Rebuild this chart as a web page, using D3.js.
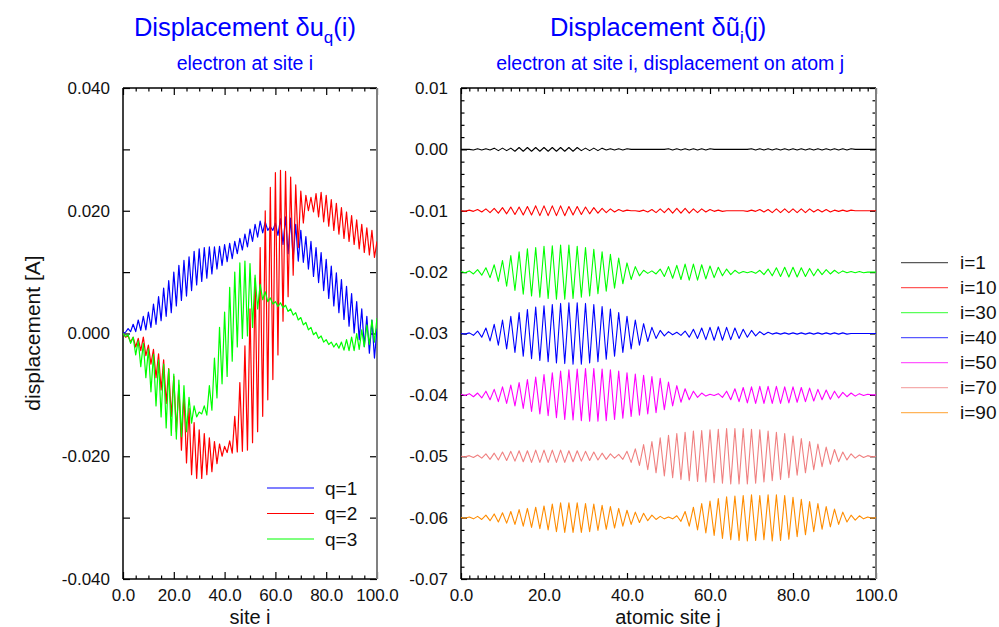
<!DOCTYPE html>
<html>
<head>
<meta charset="utf-8">
<script src="https://cdnjs.cloudflare.com/ajax/libs/d3/7.8.5/d3.min.js"></script>
<style>
  html, body { margin: 0; padding: 0; background: #fff; }
  svg { display: block; }
</style>
</head>
<body>
<div id="chart"></div>
<script>
// x positions: site index along the chain
const sites = d3.range(0, 101);

// values below are in units of 1e-4 A
const UNIT = 1e-4;

// left panel: displacement du_q(i)
const qLabels = ["q=1", "q=2", "q=3"];
const qColors = ["#0000ff", "#ff0000", "#00ff00"];
const q1 = [0, 2, 8, 3, 15, 3, 22, 5, 28, 6,
  35, 10, 48, 15, 60, 21, 74, 28, 86, 34,
  100, 45, 111, 54, 119, 61, 125, 70, 134, 79,
  138, 85, 140, 90, 141, 97, 141, 105, 142, 111,
  145, 117, 147, 122, 150, 130, 155, 136, 162, 141,
  170, 150, 178, 157, 183, 164, 182, 168, 174, 168,
  180, 160, 187, 145, 190, 130, 188, 122, 178, 118,
  168, 116, 158, 105, 150, 93, 140, 83, 132, 70,
  121, 57, 110, 45, 99, 34, 88, 23, 77, 12,
  65, 1, 52, -10, 40, -21, 28, -32, 22, -40,
  8];
const q2 = [0, -6, -4, -14, -6, -22, -8, -28, -6, -36,
  -19, -50, -26, -72, -33, -92, -43, -114, -57, -135,
  -70, -160, -84, -190, -97, -211, -122, -230, -145, -236,
  -157, -236, -163, -230, -170, -225, -176, -212, -180, -200,
  -184, -194, -175, -195, -135, -193, -80, -192, -20, -190,
  40, -178, 90, -160, 140, -135, 200, -108, 238, -75,
  262, -35, 266, 20, 264, 60, 255, 95, 242, 140,
  232, 180, 225, 200, 222, 198, 228, 190, 230, 182,
  225, 175, 218, 168, 212, 162, 205, 155, 198, 150,
  192, 145, 185, 138, 178, 132, 172, 128, 168, 124,
  150];
const q3 = [0, -5, -2, -16, -6, -35, -12, -54, -16, -72,
  -25, -95, -34, -118, -43, -136, -50, -154, -58, -166,
  -66, -172, -76, -168, -85, -160, -104, -146, -118, -136,
  -128, -131, -118, -133, -85, -125, -40, -105, 10, -82,
  35, -70, 75, -45, 100, -22, 115, -8, 118, -4,
  114, 10, 95, 40, 80, 55, 68, 52, 58, 48,
  52, 44, 50, 42, 46, 36, 40, 30, 34, 22,
  26, 14, 18, 6, 10, -2, 2, -8, -4, -14,
  -10, -18, -14, -22, -16, -24, -14, -27, -10, -28,
  -6, -28, 0, -26, 6, -22, 14, -18, 22, -14,
  25];

// right panel: displacement on atom j, electron at site i (curves shifted by offsets)
const iLabels = ["i=1", "i=10", "i=30", "i=40", "i=50", "i=70", "i=90"];
const iColors = ["#000000", "#ff0000", "#00ff00", "#0000ff", "#ff00ff", "#f08080", "#ff8c00"];
const iOffsets = [0, -0.01, -0.02, -0.03, -0.04, -0.05, -0.06];
const i1 = [0, 0, 0, -1, 1, -1, 1, -1, 2, -2,
  2, -2, 2, -3, 3, -3, 3, -3, 3, -3,
  3, -3, 3, -3, 3, -3, 3, -3, 3, -2,
  2, -2, 2, -2, 2, -1, 1, -1, 1, -1,
  1, 0, 0, 0, 0, 0, 0, 0, 0, 0,
  1, -1, 1, -1, 1, -1, 1, -1, 1, -1,
  1, 0, 0, 0, 0, 0, 0, 0, 0, 0,
  1, -1, 1, -1, 1, -1, 1, -1, 1, -1,
  1, -1, 1, -1, 1, -1, 1, -1, 1, -1,
  1, -1, 1, -1, 1, 0, 0, 0, 0, 0,
  0];
const i10 = [0, -1, 1, -1, 2, -2, 3, -3, 4, -4,
  5, -5, 6, -6, 6, -7, 7, -7, 8, -8,
  8, -8, 8, -8, 8, -8, 7, -7, 7, -6,
  6, -5, 5, -4, 4, -3, 3, -2, 2, -1,
  1, 0, 0, -1, 1, -2, 2, -3, 3, -3,
  4, -4, 4, -4, 4, -4, 3, -3, 3, -2,
  2, -1, 1, -1, 0, 0, 0, 0, 0, -1,
  1, -1, 2, -2, 2, -3, 3, -3, 3, -3,
  3, -3, 3, -3, 3, -2, 2, -2, 2, -2,
  1, -1, 1, -1, 1, 0, 0, 0, 0, 0,
  0];
const i30 = [1, -1, 2, -3, 4, -5, 7, -9, 12, -15,
  19, -23, 27, -30, 33, -36, 38, -39, 40, -41,
  42, -43, 43, -44, 44, -44, 44, -43, 42, -41,
  40, -39, 37, -35, 33, -31, 29, -26, 23, -19,
  15, -12, 9, -6, 3, -2, 2, -3, 5, -7,
  9, -10, 11, -12, 13, -13, 13, -13, 12, -11,
  10, -9, 8, -6, 5, -4, 3, -2, 1, -1,
  1, -2, 3, -4, 5, -6, 7, -7, 8, -8,
  8, -8, 7, -7, 6, -6, 5, -4, 4, -3,
  3, -2, 2, -1, 1, -1, 1, -1, 0, 0,
  0];
const i40 = [0, -1, 1, -3, 4, -6, 9, -12, 15, -19,
  22, -25, 28, -31, 34, -37, 39, -41, 43, -44,
  45, -46, 47, -48, 49, -49, 50, -50, 50, -50,
  49, -48, 47, -46, 44, -42, 40, -37, 34, -31,
  28, -25, 22, -19, 16, -13, 10, -8, 5, -4,
  3, -2, 2, -3, 4, -6, 7, -8, 9, -10,
  10, -11, 11, -11, 10, -10, 9, -8, 7, -6,
  5, -4, 3, -2, 2, -1, 1, -1, 1, -1,
  1, -1, 1, -1, 1, -1, 1, -1, 1, -1,
  1, -1, 1, -1, 0, 0, 0, 0, 0, 0,
  0];
const i50 = [1, -1, 2, -3, 3, -5, 6, -8, 9, -11,
  13, -14, 16, -18, 20, -22, 25, -27, 29, -31,
  33, -34, 36, -37, 39, -40, 41, -41, 42, -42,
  43, -43, 43, -43, 42, -42, 41, -40, 39, -38,
  36, -35, 34, -33, 32, -31, 30, -29, 27, -24,
  21, -18, 15, -12, 10, -8, 6, -4, 3, -2,
  1, -1, 2, -4, 6, -8, 10, -11, 12, -13,
  13, -14, 14, -14, 14, -14, 14, -14, 13, -13,
  13, -12, 12, -11, 11, -10, 9, -8, 8, -7,
  6, -5, 4, -3, 3, -2, 2, -1, 1, 0,
  0];
const i70 = [0, -1, 1, -2, 2, -3, 4, -5, 5, -6,
  7, -7, 8, -8, 9, -9, 9, -10, 10, -10,
  10, -10, 10, -10, 10, -10, 9, -9, 9, -8,
  8, -7, 7, -6, 5, -5, 4, -3, 3, -5,
  8, -10, 12, -15, 19, -22, 24, -27, 30, -32,
  34, -35, 37, -38, 39, -40, 41, -41, 42, -42,
  43, -43, 44, -44, 45, -45, 45, -45, 45, -45,
  44, -44, 43, -42, 41, -40, 39, -38, 37, -35,
  33, -31, 29, -27, 24, -22, 20, -17, 15, -13,
  11, -9, 7, -6, 4, -3, 2, -2, 1, -1,
  0];
const i90 = [0, -1, 1, -2, 2, -3, 4, -5, 6, -7,
  8, -9, 10, -11, 13, -14, 15, -16, 17, -18,
  19, -20, 22, -23, 24, -24, 24, -24, 24, -24,
  23, -23, 22, -21, 20, -19, 18, -17, 15, -14,
  12, -11, 9, -8, 7, -5, 4, -3, 2, -2,
  1, -2, 3, -6, 10, -14, 17, -20, 23, -25,
  27, -29, 31, -34, 34, -36, 35, -37, 36, -38,
  37, -37, 36, -36, 37, -38, 37, -37, 36, -35,
  33, -31, 30, -28, 26, -23, 23, -19, 18, -15,
  14, -11, 9, -7, 4, -4, 3, -2, 1, -1,
  0];
const iSeries = [i1, i10, i30, i40, i50, i70, i90];

const FONT = '"Liberation Sans", Arial, Helvetica, sans-serif';
const W = 999, H = 627;

const svg = d3.select("#chart").append("svg")
  .attr("width", W)
  .attr("height", H)
  .style("font-family", FONT);

// tick marks on all four sides, pointing in
function drawFrame(x, y, o) {
  const [x0, x1] = x.range();
  const [yb, yt] = y.range();
  const g = svg.append("g");

  const axes = [
    [d3.axisBottom(x).tickValues(o.xMajor).tickSize(-o.maj).tickPadding(10).tickFormat(d => d.toFixed(1)), `translate(0,${yb})`],
    [d3.axisBottom(x).tickValues(o.xMinor).tickSize(-o.min).tickFormat(""), `translate(0,${yb})`],
    [d3.axisTop(x).tickValues(o.xMajor).tickSize(-o.maj).tickFormat(""), `translate(0,${yt})`],
    [d3.axisTop(x).tickValues(o.xMinor).tickSize(-o.min).tickFormat(""), `translate(0,${yt})`],
    [d3.axisLeft(y).tickValues(o.yMajor).tickSize(-o.maj).tickPadding(13).tickFormat(o.yFmt), `translate(${x0},0)`],
    [d3.axisLeft(y).tickValues(o.yMinor).tickSize(-o.yMinLen).tickFormat(""), `translate(${x0},0)`],
    [d3.axisRight(y).tickValues(o.yMajor).tickSize(-o.maj).tickFormat(""), `translate(${x1},0)`],
    [d3.axisRight(y).tickValues(o.yMinor).tickSize(-o.yMinLen).tickFormat(""), `translate(${x1},0)`]
  ];
  axes.forEach(([ax, tr]) => {
    g.append("g").attr("transform", tr).call(ax.tickSizeOuter(0));
  });
  g.selectAll(".domain").remove();
  g.selectAll(".tick line").attr("stroke", "#000").attr("stroke-width", 1.2);
  g.selectAll("g").attr("font-family", FONT).attr("font-size", 17);
  g.selectAll(".tick text").attr("fill", "#111");

  // box
  g.append("line").attr("x1", x0).attr("x2", x0).attr("y1", yt).attr("y2", yb)
    .attr("stroke", "#000").attr("stroke-width", 1.5);
  g.append("line").attr("x1", x0).attr("x2", x1).attr("y1", yb).attr("y2", yb)
    .attr("stroke", "#000").attr("stroke-width", 1.5);
  g.append("line").attr("x1", x0).attr("x2", x1).attr("y1", yt).attr("y2", yt)
    .attr("stroke", "#000").attr("stroke-width", 1.5);
  g.append("line").attr("x1", x1).attr("x2", x1).attr("y1", yt).attr("y2", yb)
    .attr("stroke", "#808080").attr("stroke-width", 2);
}

function clip(id, x, y) {
  svg.append("clipPath").attr("id", id).append("rect")
    .attr("x", x.range()[0]).attr("y", y.range()[1])
    .attr("width", x.range()[1] - x.range()[0])
    .attr("height", y.range()[0] - y.range()[1]);
}

function title(cx, main, sub, subtitle) {
  const t = svg.append("text")
    .attr("x", cx).attr("y", 36)
    .attr("text-anchor", "middle")
    .attr("font-size", 25.5)
    .attr("fill", "#0000ff");
  t.append("tspan").text(main);
  t.append("tspan").attr("font-size", 17).attr("dy", 7).text(sub);
  t.append("tspan").attr("dy", -7).text(subtitle[0]);

  svg.append("text")
    .attr("x", cx + subtitle[2]).attr("y", 70)
    .attr("text-anchor", "middle")
    .attr("font-size", 19.5)
    .attr("fill", "#0000ff")
    .text(subtitle[1]);
}

// ---------- left panel ----------
const xL = d3.scaleLinear().domain([0, 100]).range([123, 377]);
const yL = d3.scaleLinear().domain([-0.04, 0.04]).range([579, 88]);

drawFrame(xL, yL, {
  xMajor: [0, 20, 40, 60, 80, 100],
  xMinor: [5, 10, 15, 25, 30, 35, 45, 50, 55, 65, 70, 75, 85, 90, 95],
  yMajor: [-0.04, -0.02, 0, 0.02, 0.04],
  yMinor: [-0.03, -0.01, 0.01, 0.03],
  yFmt: d => d.toFixed(3),
  maj: 7, min: 3.5, yMinLen: 7
});
clip("clipL", xL, yL);

const lineL = d3.line()
  .x((d, k) => xL(sites[k]))
  .y(d => yL(d * UNIT));

svg.append("g").attr("clip-path", "url(#clipL)")
  .selectAll("path")
  .data([q1, q2, q3])
  .join("path")
  .attr("d", lineL)
  .attr("fill", "none")
  .attr("stroke", (d, k) => qColors[k])
  .attr("stroke-width", 1.2)
  .attr("stroke-linejoin", "round");

title(xL(48), "Displacement \u03b4u", "q", ["(i)", "electron at site i", 0]);

svg.append("text")
  .attr("x", 250).attr("y", 624)
  .attr("text-anchor", "middle")
  .attr("font-size", 20)
  .attr("fill", "#111")
  .text("site i");

svg.append("text")
  .attr("transform", "translate(40,333) rotate(-90)")
  .attr("text-anchor", "middle")
  .attr("font-size", 21)
  .attr("fill", "#111")
  .text("displacement [A]");

qLabels.forEach((lab, k) => {
  const yy = 488 + k * 25.5;
  svg.append("line")
    .attr("x1", 267).attr("x2", 314).attr("y1", yy).attr("y2", yy)
    .attr("stroke", qColors[k]).attr("stroke-width", 1.2);
  svg.append("text")
    .attr("x", 325).attr("y", yy).attr("dy", "0.35em")
    .attr("font-size", 19).attr("fill", "#111")
    .text(lab);
});

// ---------- right panel ----------
const xR = d3.scaleLinear().domain([0, 100]).range([461, 876]);
const yR = d3.scaleLinear().domain([-0.07, 0.01]).range([579, 88]);

const yRMajor = [-0.07, -0.06, -0.05, -0.04, -0.03, -0.02, -0.01, 0, 0.01];
const yRMinor = d3.range(-70, 10, 2).filter(v => v % 10 !== 0).map(v => v / 1000);
const xRMinor = d3.range(2, 100, 2).filter(v => v % 20 !== 0);

drawFrame(xR, yR, {
  xMajor: [0, 20, 40, 60, 80, 100],
  xMinor: xRMinor,
  yMajor: yRMajor,
  yMinor: yRMinor,
  yFmt: d => d.toFixed(2),
  maj: 6, min: 3.5, yMinLen: 3.5
});
clip("clipR", xR, yR);

svg.append("g").attr("clip-path", "url(#clipR)")
  .selectAll("path")
  .data(iSeries)
  .join("path")
  .attr("d", (vals, k) => d3.line()
    .x((d, n) => xR(sites[n]))
    .y(d => yR(iOffsets[k] + d * UNIT))(vals))
  .attr("fill", "none")
  .attr("stroke", (d, k) => iColors[k])
  .attr("stroke-width", 1.1)
  .attr("stroke-linejoin", "round");

title(xR(47.5), "Displacement \u03b4\u0169", "i", ["(j)", "electron at site i, displacement on atom j", 12]);

svg.append("text")
  .attr("x", 668).attr("y", 624)
  .attr("text-anchor", "middle")
  .attr("font-size", 20)
  .attr("fill", "#111")
  .text("atomic site j");

iLabels.forEach((lab, k) => {
  const yy = 262.7 + k * 25;
  svg.append("line")
    .attr("x1", 901).attr("x2", 948).attr("y1", yy).attr("y2", yy)
    .attr("stroke", iColors[k]).attr("stroke-width", 1.2)
    .attr("stroke-opacity", 0.65);
  svg.append("text")
    .attr("x", 960).attr("y", yy).attr("dy", "0.35em")
    .attr("font-size", 19).attr("fill", "#111")
    .text(lab);
});
</script>
</body>
</html>
